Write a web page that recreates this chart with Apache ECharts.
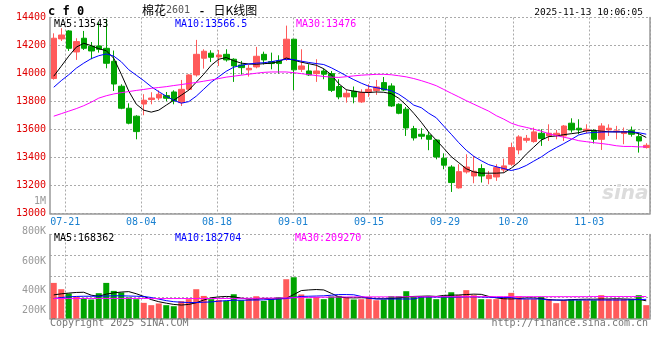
<!DOCTYPE html>
<html><head><meta charset="utf-8">
<script src="https://cdn.jsdelivr.net/npm/echarts@6/dist/echarts.min.js"></script>
<style>html,body{margin:0;padding:0;background:#fff}#c{width:660px;height:360px}</style>
</head><body><div id="c"></div>
<script>
const dates = ['07-17','07-18','07-21','07-22','07-23','07-24','07-25','07-28','07-29','07-30','07-31','08-01','08-04','08-05','08-06','08-07','08-08','08-11','08-12','08-13','08-14','08-15','08-18','08-19','08-20','08-21','08-22','08-25','08-26','08-27','08-28','08-29','09-01','09-02','09-03','09-04','09-05','09-08','09-09','09-10','09-11','09-12','09-15','09-16','09-17','09-18','09-19','09-22','09-23','09-24','09-25','09-26','09-29','09-30','10-09','10-10','10-13','10-14','10-15','10-16','10-17','10-20','10-21','10-22','10-23','10-24','10-27','10-28','10-29','10-30','10-31','11-03','11-04','11-05','11-06','11-07','11-10','11-11','11-12','11-13'];
const tickDates = ['07-21','08-04','08-18','09-01','09-15','09-29','10-20','11-03'];
const priceTicks = [13000,13200,13400,13600,13800,14000,14200,14400];
const volTickLabels = ['800K','600K','400K','200K'];

const open = [13964,14247,14304,14154,14252,14195,14197,14180,14087,13909,
13752,13695,13782,13814,13825,13842,13868,13792,13887,13990,
14109,14145,14118,14137,14102,14061,14026,14047,14137,14085,
14090,14102,14245,14030,14018,13999,14018,13999,13907,13833,
13873,13797,13868,13878,13935,13911,13780,13745,13606,13566,
13559,13525,13395,13332,13183,13297,13268,13321,13249,13261,
13311,13352,13454,13523,13514,13573,13554,13561,13554,13645,
13609,13590,13590,13530,13597,13585,13571,13595,13549,13471];
const close = [14252,14275,14180,14228,14180,14161,14173,14073,13925,13752,
13645,13585,13809,13825,13852,13823,13804,13887,13990,14137,
14159,14116,14132,14097,14054,14042,14037,14123,14097,14071,
14071,14245,14026,14054,13990,14018,13995,13880,13833,13859,
13833,13864,13887,13904,13882,13768,13716,13611,13540,13552,
13530,13404,13345,13221,13299,13332,13302,13268,13275,13328,
13340,13471,13547,13537,13583,13535,13573,13573,13625,13597,
13597,13602,13530,13625,13609,13590,13585,13566,13518,13487];
const low = [13956,14232,14161,14097,14168,14102,14149,14037,13875,13745,
13637,13530,13702,13780,13809,13802,13780,13768,13876,13978,
14035,14082,14054,14085,13940,13992,13978,14037,14064,14030,
13999,14090,13882,14011,13983,13940,13959,13868,13816,13792,
13787,13790,13833,13847,13875,13761,13709,13554,13521,13530,
13452,13387,13316,13154,13178,13285,13216,13221,13209,13233,
13292,13340,13423,13506,13506,13483,13518,13530,13518,13578,
13566,13573,13500,13454,13554,13530,13495,13549,13435,13464];
const high = [14287,14323,14310,14252,14304,14225,14366,14390,14164,13923,
13787,13702,13852,13866,13880,13868,13880,13954,13995,14240,
14173,14166,14168,14173,14109,14090,14061,14190,14156,14149,
14130,14342,14245,14173,14066,14102,14035,14018,13959,13887,
13907,13887,13923,13954,13975,13930,13787,13761,13626,13609,
13583,13530,13430,13345,13352,13423,13411,13352,13304,13352,
13392,13506,13559,13561,13614,13602,13637,13597,13632,13680,
13673,13637,13602,13645,13637,13626,13614,13621,13578,13502];

const ma5 = [13981,14052,14124,14188,14216,14199,14177,14163,14109,13995,
13874,13781,13738,13724,13738,13774,13809,13845,13881,13938,
13995,14059,14102,14114,14091,14074,14068,14066,14070,14074,
14084,14111,14095,14081,14070,14059,14034,13991,13927,13884,
13874,13866,13864,13868,13866,13856,13823,13774,13716,13652,
13581,13524,13466,13406,13363,13320,13297,13288,13288,13288,
13291,13324,13366,13424,13474,13524,13549,13554,13563,13570,
13577,13591,13594,13588,13584,13583,13583,13583,13570,13543];
const ma10 = [13902,13949,13991,14038,14074,14106,14127,14140,14124,14084,
14027,13988,13949,13906,13870,13838,13809,13788,13799,13838,
13888,13938,13977,14016,14045,14059,14068,14074,14077,14084,
14094,14101,14099,14088,14079,14071,14064,14041,14013,13984,
13956,13931,13909,13899,13889,13877,13852,13816,13774,13756,
13716,13684,13624,13566,13506,13452,13409,13377,13349,13334,
13321,13307,13320,13343,13374,13404,13441,13471,13499,13529,
13561,13574,13579,13581,13583,13583,13583,13583,13577,13566.5];
const ma30 = [13695,13713,13731,13749,13770,13795,13824,13841,13854,13863,
13871,13879,13886,13894,13900,13906,13914,13921,13929,13936,
13945,13954,13964,13974,13981,13988,13995,14002,14008,14011,
14011,14011,14006,13999,13992,13985,13979,13974,13972,13977,
13983,13988,13991,13994,13994,13991,13984,13976,13964,13949,
13932,13913,13886,13859,13833,13806,13781,13756,13731,13699,
13674,13645,13627,13615,13602,13588,13570,13556,13545,13534,
13520,13513,13506,13500,13493,13484,13479,13479,13476,13476];

const volume = [339000,279000,238000,206000,196000,181000,241000,339000,263000,248000,
200000,184000,149000,127000,143000,127000,117000,165000,184000,279000,
215000,184000,177000,168000,231000,174000,184000,212000,168000,184000,
203000,374000,393000,229000,190000,206000,184000,210000,215000,203000,
181000,184000,200000,174000,181000,212000,212000,260000,206000,212000,
212000,184000,212000,250000,222000,270000,222000,184000,184000,184000,
206000,244000,212000,184000,184000,206000,184000,146000,174000,181000,
174000,174000,174000,222000,184000,184000,184000,184000,222000,127000];
const volMa5 = [225000,235000,242000,248000,250000,222000,212000,232000,244000,252000,
256000,236000,210000,180000,160000,146000,134000,128000,134000,150000,
176000,198000,206000,210000,206000,194000,186000,186000,192000,186000,
190000,192000,228000,266000,272000,276000,272000,240000,206000,198000,
196000,198000,196000,188000,188000,190000,196000,206000,210000,212000,
214000,210000,220000,222000,224000,228000,232000,230000,210000,196000,
188000,186000,190000,196000,196000,190000,180000,176000,174000,180000,
182000,184000,184000,186000,186000,188000,186000,184000,182000,168362];
const volMa10 = [190000,200000,206000,210000,212000,212000,212000,214000,216000,216000,
214000,212000,210000,200000,185000,170000,160000,155000,152000,152000,
155000,158000,165000,170000,174000,174000,175000,176000,178000,182000,
186000,190000,200000,210000,212000,214000,216000,222000,228000,228000,
226000,210000,192000,186000,186000,186000,186000,186000,186000,204000,
204000,204000,204000,204000,204000,206000,206000,204000,202000,200000,
200000,200000,186000,186000,186000,186000,176000,176000,176000,176000,
176000,176000,176000,176000,176000,176000,176000,178000,180000,182704];
const volMa30 = [190000,190000,190000,190000,191000,191000,191000,191000,191000,191000,
191000,191000,191000,190000,190000,190000,190000,190000,190000,190000,
190000,190000,191000,191000,191000,192000,192000,192000,193000,194000,
195000,196000,198000,200000,201000,202000,203000,204000,205000,205000,
206000,206000,206000,206000,206000,206000,206000,207000,207000,207000,
207000,208000,208000,208000,208000,208000,208000,208000,208000,208000,
208000,208000,208000,208000,208000,208000,208000,208000,208000,208000,
208000,208000,209000,209000,209000,209000,209000,209000,209000,209270];

const UP = '#ff5a5a', DOWN = '#00a400', GRIDC = '#aaaaaa', AXC = '#999999';
const mono = '"DejaVu Sans Mono", monospace';
const candleData = open.map((o, i) => [o, close[i], low[i], high[i]]);
const volData = volume.map((v, i) => ({value: v, itemStyle: {color: close[i] >= open[i] ? UP : DOWN}}));
const isTick = (i, v) => tickDates.indexOf(v) >= 0;
const last = a => a[a.length - 1];

const chart = echarts.init(document.getElementById('c'), null, {renderer: 'canvas'});
const dotted = {color: GRIDC, type: [2, 2], width: 1};
const txt = (x, y, text, font, fill, align, z) => ({type: 'text', x: x, y: y, z: z || 10,
  style: {text: text, font: font, fill: fill, align: align || 'left', verticalAlign: 'middle'}});
chart.setOption({
  animation: false,
  backgroundColor: '#fff',
  grid: [
    {left: 50, top: 17.5, width: 600, height: 196},
    {left: 50, top: 234.5, width: 600, height: 84}
  ],
  xAxis: [
    {gridIndex: 0, type: 'category', data: dates, boundaryGap: true,
     axisLine: {lineStyle: {color: AXC, width: 1.5}}, axisTick: {show: false},
     axisLabel: {show: false}, splitLine: {show: false}},
    {gridIndex: 0, type: 'category', data: dates, max: 78, boundaryGap: true, position: 'bottom',
     axisLine: {show: false}, axisTick: {show: false},
     axisLabel: {show: true, interval: isTick, color: '#1a80d0', fontFamily: mono, fontSize: 10,
                 margin: 4, padding: [0, 7.6, 0, 0]},
     splitLine: {show: true, interval: isTick, lineStyle: dotted}},
    {gridIndex: 1, type: 'category', data: dates, boundaryGap: true,
     axisLine: {lineStyle: {color: AXC, width: 1.5}}, axisTick: {show: false},
     axisLabel: {show: false}, splitLine: {show: false}},
    {gridIndex: 1, type: 'category', data: dates, max: 78, boundaryGap: true, position: 'bottom',
     axisLine: {show: false}, axisTick: {show: false}, axisLabel: {show: false},
     splitLine: {show: true, interval: isTick, lineStyle: dotted}}
  ],
  yAxis: [
    {gridIndex: 0, type: 'value', min: priceTicks[0], max: last(priceTicks), interval: 200,
     axisLine: {show: true, lineStyle: {color: AXC, width: 1.5}}, axisTick: {show: false},
     axisLabel: {color: '#e00000', fontFamily: mono, fontSize: 10, margin: 4, formatter: v => String(v)},
     splitLine: {show: true, lineStyle: dotted}},
    {gridIndex: 0, type: 'value', position: 'right', min: 13000, max: 14400,
     axisLine: {show: true, onZero: false, lineStyle: {color: AXC, width: 1.5}}, axisTick: {show: false},
     axisLabel: {show: false}, splitLine: {show: false}},
    {gridIndex: 1, type: 'value', min: 0, max: 800000, interval: 200000,
     axisLine: {show: true, lineStyle: {color: AXC, width: 1.5}}, axisTick: {show: false},
     axisLabel: {show: false}, splitLine: {show: true, lineStyle: dotted}},
    {gridIndex: 1, type: 'value', position: 'right', min: 0, max: 800000,
     axisLine: {show: true, onZero: false, lineStyle: {color: AXC, width: 1.5}}, axisTick: {show: false},
     axisLabel: {show: false}, splitLine: {show: false}}
  ],
  series: [
    {type: 'candlestick', xAxisIndex: 0, yAxisIndex: 0, data: candleData, barWidth: 6, z: 2,
     itemStyle: {color: UP, color0: DOWN, borderColor: UP, borderColor0: DOWN, borderWidth: 1}},
    {type: 'line', xAxisIndex: 0, yAxisIndex: 0, data: ma5, symbol: 'none', z: 3,
     lineStyle: {color: '#000000', width: 1}},
    {type: 'line', xAxisIndex: 0, yAxisIndex: 0, data: ma10, symbol: 'none', z: 3,
     lineStyle: {color: '#0000ff', width: 1}},
    {type: 'line', xAxisIndex: 0, yAxisIndex: 0, data: ma30, symbol: 'none', z: 3,
     lineStyle: {color: '#ff00ff', width: 1}},
    {type: 'bar', xAxisIndex: 2, yAxisIndex: 2, data: volData, barWidth: 6, z: 2},
    {type: 'line', xAxisIndex: 2, yAxisIndex: 2, data: volMa5, symbol: 'none', z: 3,
     lineStyle: {color: '#000000', width: 1}},
    {type: 'line', xAxisIndex: 2, yAxisIndex: 2, data: volMa10, symbol: 'none', z: 3,
     lineStyle: {color: '#0000ff', width: 1}},
    {type: 'line', xAxisIndex: 2, yAxisIndex: 2, data: volMa30, symbol: 'none', z: 3,
     lineStyle: {color: '#ff00ff', width: 1}}
  ],
  graphic: [
    txt(48, 12, 'c f 0', 'bold 12px ' + mono, '#000'),
    txt(142, 10, '棉花', '12px "Noto Sans CJK SC"', '#000'),
    txt(166, 10.5, '2601', '10px ' + mono, '#555'),
    txt(202, 10, '-', 'bold 12px "Noto Sans CJK SC"', '#000', 'center'),
    txt(213.5, 10, '日K线图', '12px "Noto Sans CJK SC"', '#000'),
    txt(643, 12.5, '2025-11-13 10:06:05', '9.5px ' + mono, '#000', 'right'),
    txt(54, 24, 'MA5:' + last(ma5), '10px ' + mono, '#000'),
    txt(175, 24, 'MA10:' + last(ma10), '10px ' + mono, '#0000ff'),
    txt(296, 24, 'MA30:' + last(ma30), '10px ' + mono, '#ff00ff'),
    txt(54, 238.5, 'MA5:' + last(volMa5), '10px ' + mono, '#000'),
    txt(175, 238.5, 'MA10:' + last(volMa10), '10px ' + mono, '#0000ff'),
    txt(295, 238.5, 'MA30:' + last(volMa30), '10px ' + mono, '#ff00ff'),
    txt(46, 201, '1M', '10px ' + mono, '#999', 'right'),
    txt(46, 231, volTickLabels[0], '10px ' + mono, '#999', 'right'),
    txt(46, 261, volTickLabels[1], '10px ' + mono, '#999', 'right'),
    txt(46, 290, volTickLabels[2], '10px ' + mono, '#999', 'right'),
    txt(46, 310, volTickLabels[3], '10px ' + mono, '#999', 'right'),
    txt(50, 323.5, 'Copyright 2025 SINA.COM', '10px ' + mono, '#777'),
    txt(648, 323.5, 'http://finance.sina.com.cn', '10px ' + mono, '#777', 'right'),
    txt(602, 194, 'sina', 'italic bold 20px "DejaVu Sans"', '#dcdcdc', 'left', 1)
  ]
});
</script></body></html>
